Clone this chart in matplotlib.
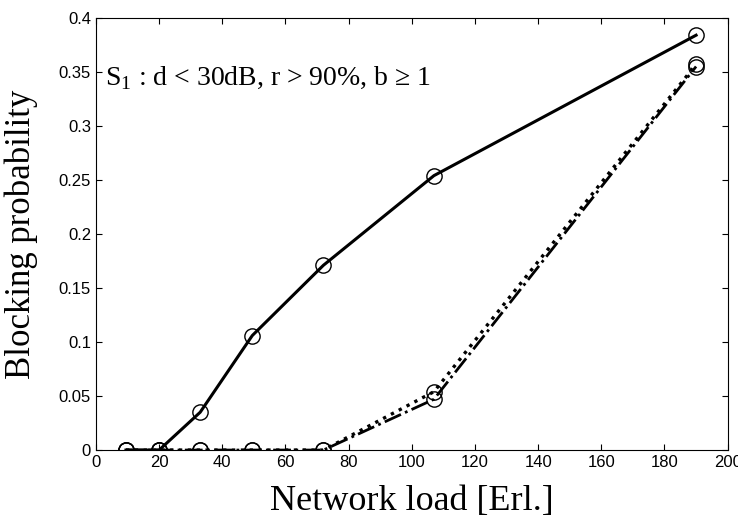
import matplotlib
matplotlib.use("Agg")
import matplotlib.pyplot as plt

# Network load [Erl.] and blocking probability for the three schemes
load = [9.5, 20, 33, 49.5, 72, 107, 190]
block_a = [0, 0, 0.035, 0.106, 0.171, 0.254, 0.384]
block_b = [0, 0, 0, 0, 0, 0.054, 0.357]
block_c = [0, 0, 0, 0, 0, 0.047, 0.355]

xticks = [0, 20, 40, 60, 80, 100, 120, 140, 160, 180, 200]
yticks = [0, 0.05, 0.1, 0.15, 0.2, 0.25, 0.3, 0.35, 0.4]
ytick_labels = ["0", "0.05", "0.1", "0.15", "0.2", "0.25", "0.3", "0.35", "0.4"]

plt.rcParams["mathtext.fontset"] = "custom"
plt.rcParams["mathtext.rm"] = "Liberation Serif"

fig = plt.figure(figsize=(7.38, 5.27), dpi=100)
ax = fig.add_axes([0.130, 0.146, 0.856, 0.820])

mk = dict(marker="o", markersize=11, markerfacecolor="none",
          markeredgecolor="black", markeredgewidth=1.0, color="black")
ax.plot(load, block_a, linestyle="-", linewidth=2.2, **mk)
ax.plot(load, block_b, linestyle=":", linewidth=2.4, **mk)
ax.plot(load, block_c, linestyle="-.", linewidth=2.0, **mk)

ax.set_xlim(0, 200)
ax.set_ylim(0, 0.4)
ax.set_xticks(xticks)
ax.set_yticks(yticks)
ax.set_yticklabels(ytick_labels)
ax.tick_params(direction="in", length=4, labelsize=12, top=True, right=True)
for lbl in ax.get_xticklabels() + ax.get_yticklabels():
    lbl.set_family("Liberation Sans")

ax.set_xlabel("Network load [Erl.]", fontsize=26, family="Liberation Serif", labelpad=11)
ax.set_ylabel("Blocking probability", fontsize=25, family="Liberation Serif")
ax.yaxis.set_label_coords(-0.092, 0.5)

ax.text(0.015, 0.86, r"S$_{\rm 1}$ : d < 30dB, r > 90%, b ≥ 1", transform=ax.transAxes,
        fontsize=20, family="Liberation Serif", va="center", ha="left")

fig.savefig("out.png", dpi=100)
